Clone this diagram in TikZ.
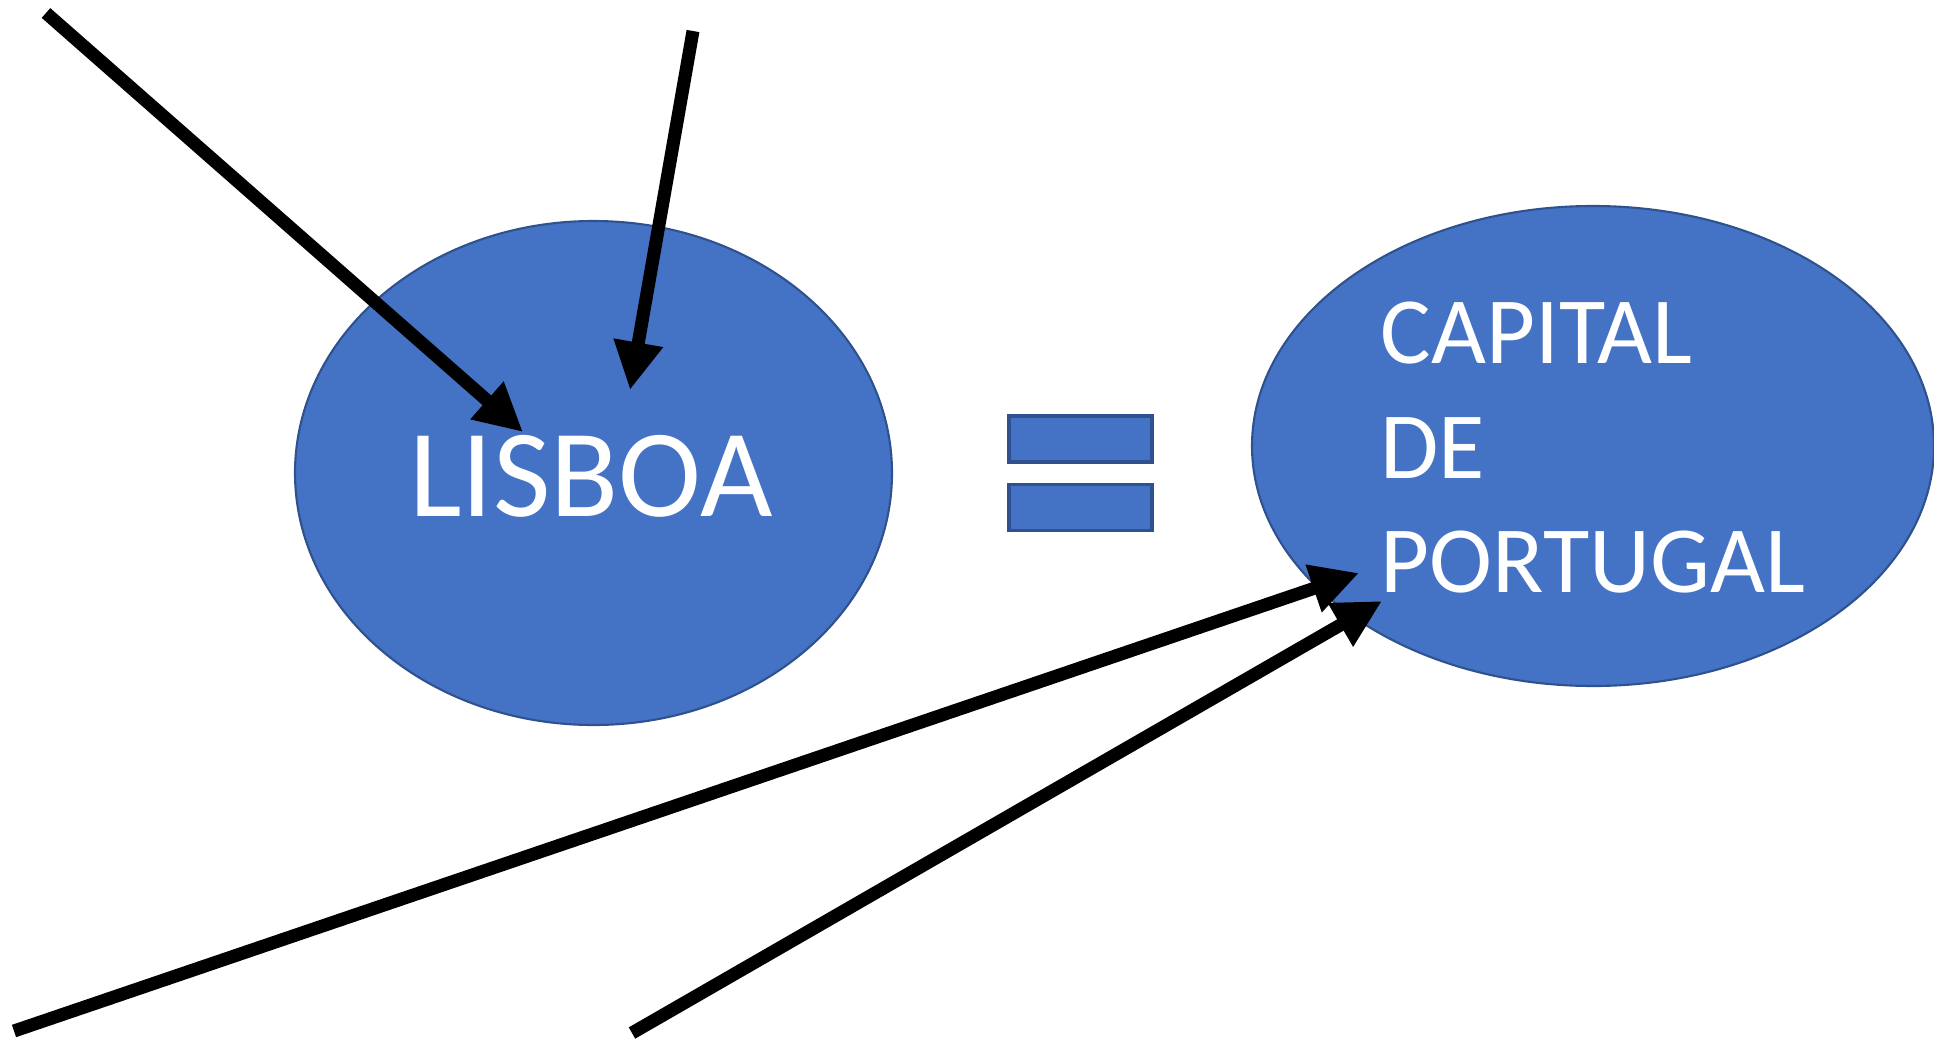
\documentclass[tikz,border=0pt]{standalone}
\usepackage{fontspec}
\setmainfont{Carlito}
\usetikzlibrary{arrows.meta, positioning, shapes.geometric}
\usepackage{xcolor}
\definecolor{mBlue}{HTML}{4472C4}
\definecolor{mDarkBlue}{HTML}{2F528F}

\begin{document}
\begin{tikzpicture}[>={Triangle[length=0.48cm, width=0.47cm]}, line width=0.13cm]
      \useasboundingbox (0,0) rectangle (19.34,10.38);
      \node[ellipse, draw=mDarkBlue, line width=0.6pt, fill=mBlue, minimum width=5.97cm, minimum height=5.04cm] (lisboa) at (5.935,5.65) {};
      \node[ellipse, draw=mDarkBlue, line width=0.6pt, fill=mBlue, minimum width=6.82cm, minimum height=4.80cm] (capital) at (15.93,5.92) {};
      \node[draw=mDarkBlue, line width=1pt, fill=mBlue, minimum width=1.43cm, minimum height=0.46cm, inner sep=0pt] (eqtop) at (10.805,5.99) {};
      \node[draw=mDarkBlue, line width=1pt, fill=mBlue, minimum width=1.43cm, minimum height=0.46cm, inner sep=0pt, below=0.19cm of eqtop] (eqbottom) {};
      \node[text=white, inner sep=0pt, anchor=base, font=\fontsize{35.6}{42}\selectfont] (lisboatext) at (5.91,5.22) {LISBOA};
      \node[text=white, inner sep=0pt, anchor=north west, align=left, font=\fontsize{27}{32.7}\selectfont] (capitaltext) at (13.74,7.43) {CAPITAL\\DE\\PORTUGAL};
      \coordinate (s1) at (0.46,10.25);
      \coordinate (t1) at (5.23,6.06);
      \coordinate (s2) at (6.93,10.07);
      \coordinate (t2) at (6.30,6.48);
      \coordinate (s3) at (0.14,0.07);
      \coordinate (t3) at (13.59,4.65);
      \coordinate (s4) at (6.32,0.05);
      \coordinate (t4) at (13.82,4.37);
      \draw[->] (s1) -- (t1);
      \draw[->] (s2) -- (t2);
      \draw[->] (s3) -- (t3);
      \draw[->] (s4) -- (t4);
    \end{tikzpicture}
\end{document}
